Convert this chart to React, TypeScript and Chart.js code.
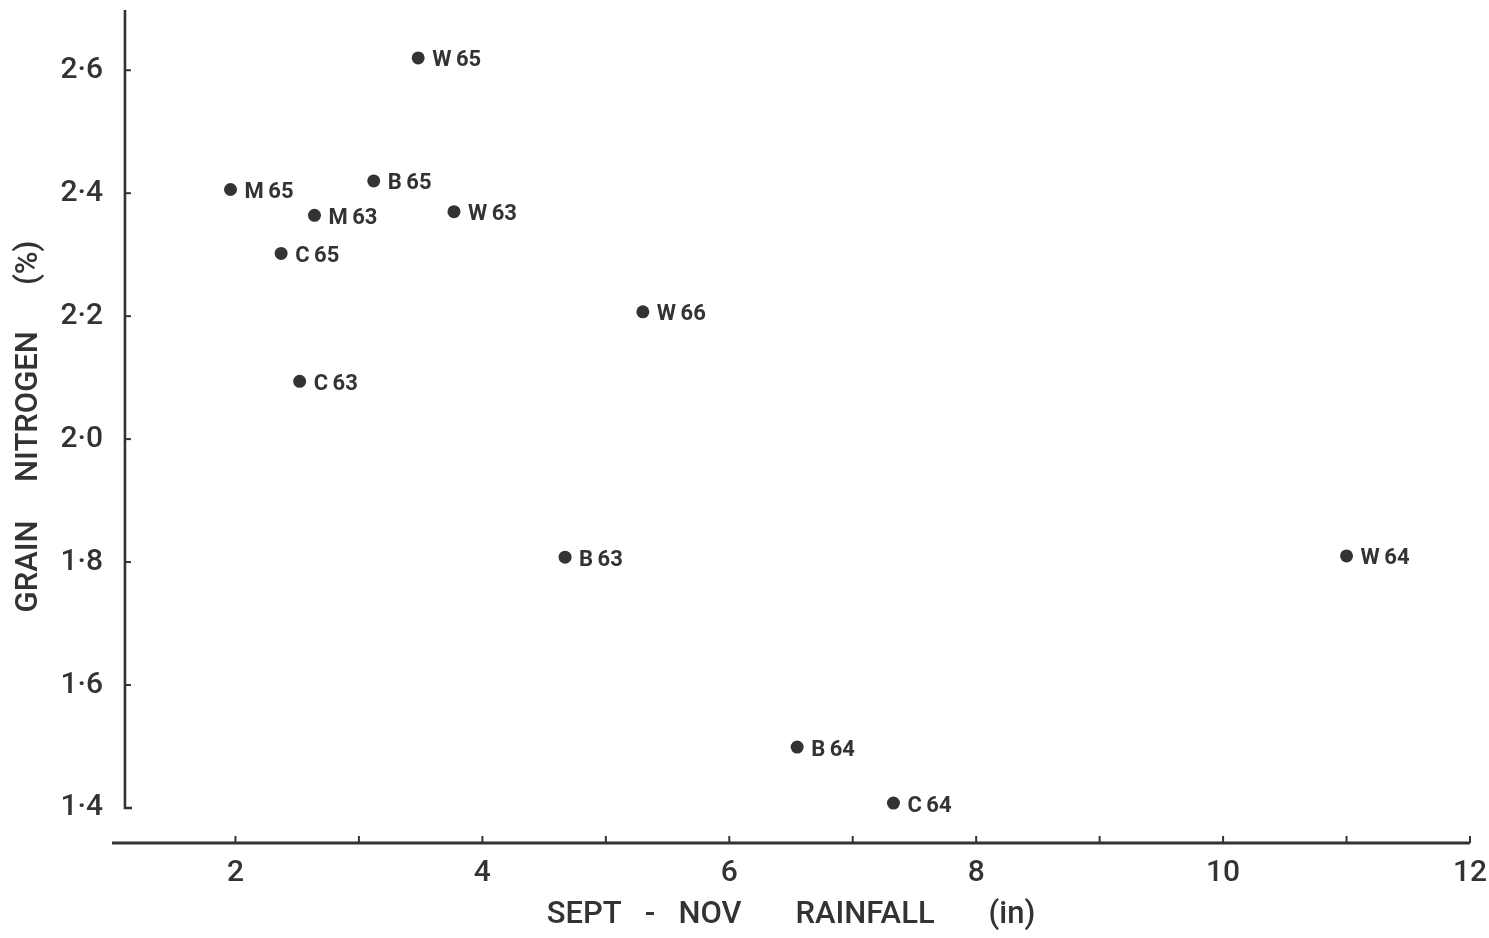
import { useEffect, useRef } from 'react';
import { Chart, registerables } from 'chart.js';

Chart.register(...registerables);

// Site / year codes and their measurements
const SITES = ['W\u200965', 'M\u200965', 'B\u200965', 'M\u200963', 'W\u200963', 'C\u200965', 'W\u200966', 'C\u200963', 'B\u200963', 'W\u200964', 'B\u200964', 'C\u200964'];
const RAINFALL = [3.48, 1.96, 3.12, 2.64, 3.77, 2.37, 5.3, 2.52, 4.67, 11.0, 6.55, 7.33];
const NITROGEN = [2.62, 2.406, 2.42, 2.364, 2.37, 2.302, 2.207, 2.094, 1.808, 1.81, 1.499, 1.408];

const X_LABEL_TICKS = [2, 4, 6, 8, 10, 12];
const X_MARK_TICKS = [2, 3, 4, 5, 6, 7, 8, 9, 10, 11, 12];
const Y_TICKS = [1.4, 1.6, 1.8, 2.0, 2.2, 2.4, 2.6];

const X_MIN = 1;
const X_MAX = 12;
const Y_MIN = 1.343;
const Y_MAX = 2.698;
const Y_AXIS_AT = 1.105;

const INK = '#333333';
const FONT = 'Roboto, "DejaVu Sans", sans-serif';

const fmtDot = (v: number) => v.toFixed(1).replace('.', '\u00b7');

const axesPlugin = {
  id: 'plottedAxes',
  afterDraw(chart: any) {
    const { ctx } = chart;
    const x = chart.scales.x;
    const y = chart.scales.y;
    ctx.save();
    ctx.strokeStyle = INK;
    ctx.lineWidth = 2.6;
    ctx.lineJoin = 'miter';

    // vertical axis with inward ticks and a foot at 1.4
    const ax = x.getPixelForValue(Y_AXIS_AT);
    const yFoot = y.getPixelForValue(Y_TICKS[0]);
    ctx.beginPath();
    ctx.moveTo(ax, y.top);
    ctx.lineTo(ax, yFoot);
    ctx.lineTo(ax + 7, yFoot);
    ctx.stroke();
    ctx.lineWidth = 2;
    Y_TICKS.slice(1).forEach((v) => {
      const py = y.getPixelForValue(v);
      ctx.beginPath();
      ctx.moveTo(ax, py);
      ctx.lineTo(ax + 6, py);
      ctx.stroke();
    });

    // horizontal axis with upward ticks
    const ay = y.getPixelForValue(Y_MIN);
    ctx.lineWidth = 2.8;
    ctx.beginPath();
    ctx.moveTo(x.getPixelForValue(X_MIN), ay);
    ctx.lineTo(x.getPixelForValue(X_MAX), ay);
    ctx.stroke();
    ctx.lineWidth = 2;
    X_MARK_TICKS.forEach((v) => {
      const px = x.getPixelForValue(v);
      ctx.beginPath();
      ctx.moveTo(px, ay);
      ctx.lineTo(px, ay - 7);
      ctx.stroke();
    });
    ctx.restore();
  },
};

const pointLabelPlugin = {
  id: 'siteLabels',
  afterDatasetsDraw(chart: any) {
    const { ctx } = chart;
    const meta = chart.getDatasetMeta(0);
    ctx.save();
    ctx.fillStyle = INK;
    ctx.font = `bold 22px ${FONT}`;
    ctx.textAlign = 'left';
    ctx.textBaseline = 'middle';
    meta.data.forEach((el: any, i: number) => {
      ctx.fillText(SITES[i], el.x + 14, el.y + 3);
    });
    ctx.restore();
  },
};

export default function App() {
  const canvasRef = useRef<HTMLCanvasElement | null>(null);

  useEffect(() => {
    if (!canvasRef.current) return;
    const chart = new Chart(canvasRef.current, {
      type: 'scatter',
      data: {
        datasets: [
          {
            data: RAINFALL.map((r, i) => ({ x: r, y: NITROGEN[i] })),
            pointRadius: 6.5,
            pointHoverRadius: 6.5,
            backgroundColor: INK,
            borderWidth: 0,
          },
        ],
      },
      options: {
        responsive: false,
        animation: false,
        events: [],
        layout: { padding: { left: 0, right: 19, top: 10, bottom: 0 } },
        plugins: {
          legend: { display: false },
          tooltip: { enabled: false },
        },
        scales: {
          x: {
            type: 'linear',
            min: X_MIN,
            max: X_MAX,
            border: { display: false },
            grid: { display: false, drawTicks: false },
            afterBuildTicks: (s: any) => {
              s.ticks = X_LABEL_TICKS.map((v) => ({ value: v }));
            },
            afterFit: (s: any) => {
              s.height = 95;
              s.paddingLeft = 0;
              s.paddingRight = 0;
            },
            ticks: {
              padding: 12,
              color: INK,
              font: { family: FONT, size: 30, weight: '500' },
              maxRotation: 0,
              autoSkip: false,
              callback: (v: any) => String(v),
            },
            title: {
              display: true,
              text: 'SEPT   -   NOV       RAINFALL       (in)',
              color: INK,
              font: { family: FONT, size: 31, weight: '500' },
              padding: { top: 0, bottom: 4 },
            },
          },
          y: {
            type: 'linear',
            min: Y_MIN,
            max: Y_MAX,
            border: { display: false },
            grid: { display: false, drawTicks: false },
            afterBuildTicks: (s: any) => {
              s.ticks = Y_TICKS.map((v) => ({ value: v }));
            },
            afterFit: (s: any) => {
              s.width = 112;
              s.paddingTop = 0;
              s.paddingBottom = 0;
            },
            ticks: {
              padding: 9,
              color: INK,
              font: { family: FONT, size: 30, weight: '500' },
              autoSkip: false,
              callback: (v: any) => fmtDot(Number(v)),
            },
            title: {
              display: true,
              text: 'GRAIN     NITROGEN      (%)',
              color: INK,
              font: { family: FONT, size: 31, weight: '500' },
              padding: { top: 11, bottom: 0 },
            },
          },
        },
      },
      plugins: [axesPlugin, pointLabelPlugin],
    });
    return () => chart.destroy();
  }, []);

  return (
    <div style={{ position: 'fixed', left: 0, top: 0, width: 1489, height: 938, background: '#fff' }}>
      <canvas ref={canvasRef} width={1489} height={938} />
    </div>
  );
}
